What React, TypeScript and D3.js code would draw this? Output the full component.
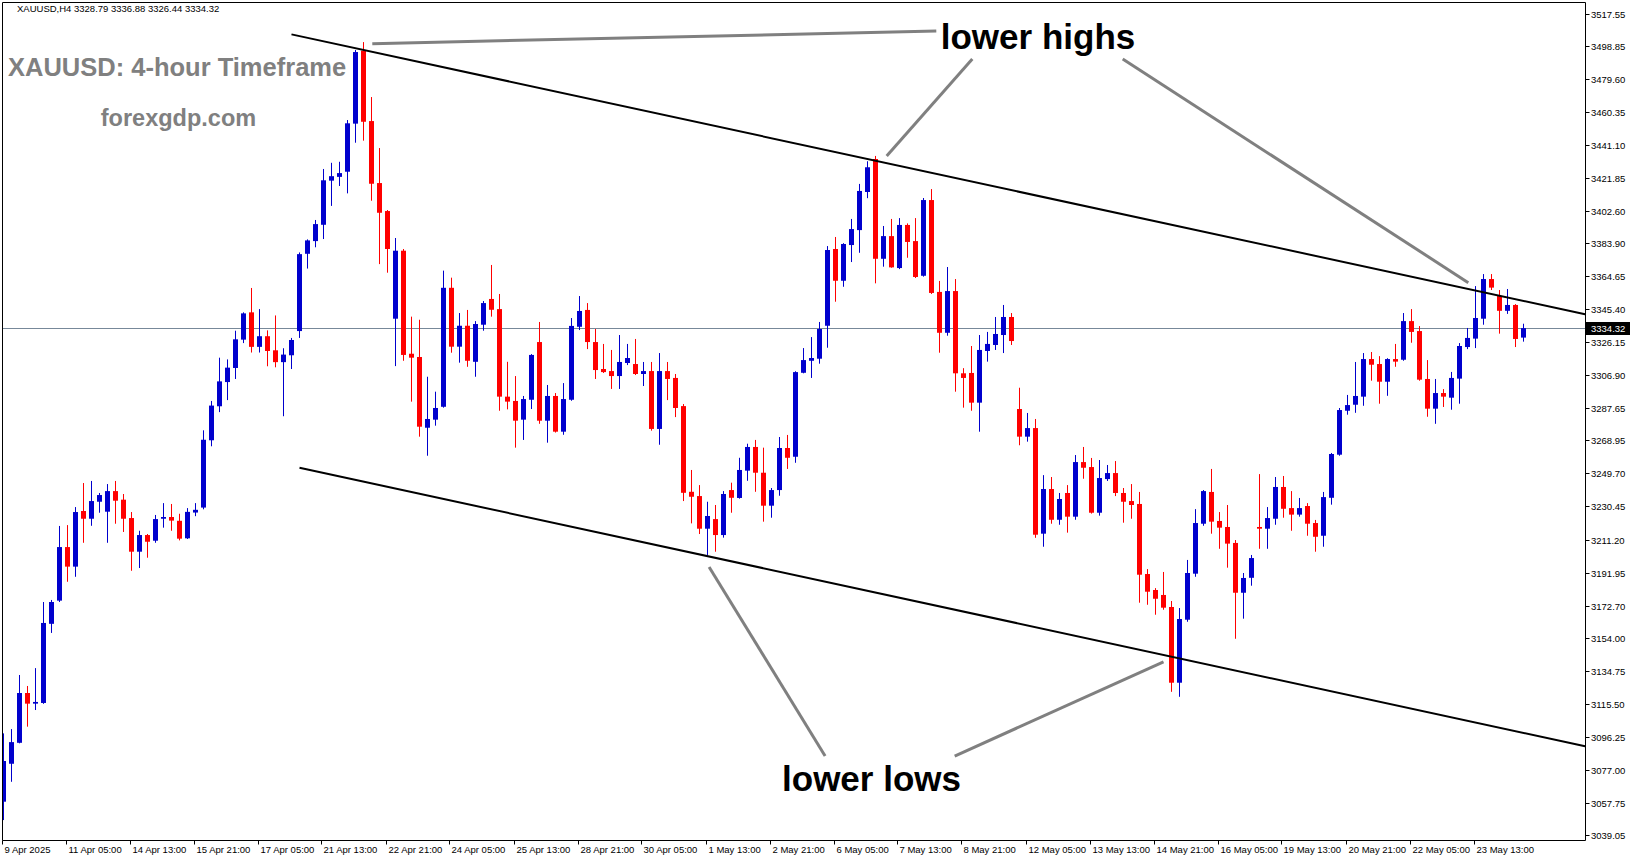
import React from "react";
import * as d3 from "d3";

// ---- DATA (XAUUSD H4) ----
const opens = [
  3058.5, 3080.6, 3092.8, 3121.8, 3115.6, 3116.0, 3162.1, 3175.6, 3206.8, 3195.4,
  3227.8, 3223.3, 3233.2, 3227.4, 3239.4, 3234.4, 3223.7, 3204.1, 3213.8, 3210.5,
  3223.3, 3224.3, 3222.1, 3211.9, 3226.9, 3229.8, 3269.0, 3288.8, 3302.9, 3311.1,
  3327.6, 3343.5, 3323.4, 3329.6, 3321.4, 3314.5, 3318.5, 3332.6, 3377.6, 3385.0,
  3394.5, 3420.2, 3422.4, 3425.4, 3453.4, 3495.9, 3454.9, 3418.8, 3402.5, 3339.8,
  3379.4, 3319.4, 3317.5, 3276.3, 3281.0, 3288.5, 3357.8, 3323.5, 3335.7, 3314.7,
  3336.3, 3351.3, 3345.4, 3294.4, 3291.9, 3281.0, 3292.6, 3326.2, 3280.4, 3294.8,
  3274.0, 3292.6, 3335.1, 3344.9, 3326.2, 3310.5, 3309.3, 3306.4, 3314.0, 3313.4,
  3307.6, 3309.3, 3275.6, 3309.3, 3305.3, 3288.9, 3239.0, 3236.5, 3217.5, 3223.1,
  3213.8, 3240.0, 3235.4, 3251.3, 3265.1, 3250.1, 3230.9, 3240.0, 3264.5, 3259.4,
  3308.3, 3315.3, 3316.5, 3335.7, 3380.4, 3361.9, 3382.7, 3391.4, 3413.6, 3432.8,
  3374.7, 3387.9, 3369.3, 3394.4, 3385.0, 3364.8, 3408.9, 3355.4, 3331.6, 3355.9,
  3308.0, 3308.2, 3290.9, 3321.0, 3324.5, 3330.3, 3340.8, 3287.2, 3271.1, 3276.1,
  3214.6, 3240.6, 3222.7, 3238.3, 3224.5, 3256.3, 3253.4, 3226.8, 3246.4, 3249.9,
  3238.3, 3233.6, 3231.9, 3191.1, 3181.8, 3178.9, 3171.9, 3127.8, 3164.5, 3191.3,
  3220.4, 3238.9, 3222.0, 3218.5, 3209.2, 3180.2, 3188.9, 3218.5, 3217.5, 3223.3,
  3241.8, 3229.5, 3225.7, 3230.7, 3220.8, 3213.4, 3235.5, 3260.6, 3286.2, 3289.7,
  3294.4, 3316.3, 3313.4, 3303.1, 3316.3, 3315.9, 3338.4, 3332.6, 3304.7, 3287.4,
  3296.5, 3293.8, 3304.9, 3323.3, 3328.2, 3339.8, 3362.9, 3353.0, 3344.4, 3347.8,
  3328.79,
];
const highs = [
  3098.3, 3100.8, 3132.3, 3125.9, 3136.3, 3174.8, 3176.0, 3219.1, 3219.6, 3230.1,
  3244.1, 3245.3, 3238.3, 3243.5, 3245.3, 3237.7, 3227.2, 3216.3, 3214.4, 3225.5,
  3232.4, 3231.9, 3226.2, 3229.5, 3232.4, 3274.8, 3291.9, 3317.1, 3316.1, 3332.8,
  3343.5, 3357.7, 3345.4, 3333.0, 3341.7, 3322.6, 3328.6, 3378.4, 3386.0, 3397.3,
  3427.0, 3430.6, 3431.2, 3455.5, 3496.3, 3500.9, 3468.9, 3439.2, 3403.1, 3386.8,
  3380.4, 3341.0, 3339.2, 3306.0, 3297.3, 3367.8, 3363.7, 3343.1, 3344.9, 3338.4,
  3350.1, 3371.1, 3354.2, 3314.7, 3306.4, 3294.8, 3319.2, 3337.9, 3301.2, 3296.5,
  3302.3, 3340.2, 3353.0, 3348.9, 3333.8, 3325.1, 3321.6, 3330.3, 3325.1, 3328.0,
  3314.6, 3314.6, 3319.8, 3314.6, 3307.6, 3290.1, 3251.7, 3242.9, 3233.2, 3231.3,
  3239.4, 3244.3, 3258.8, 3267.0, 3269.2, 3264.7, 3241.2, 3270.9, 3272.1, 3309.2,
  3322.7, 3329.1, 3337.9, 3382.1, 3387.4, 3383.8, 3397.9, 3418.3, 3431.5, 3434.6,
  3393.8, 3397.9, 3398.4, 3395.3, 3398.4, 3410.1, 3415.3, 3361.8, 3369.9, 3362.9,
  3311.0, 3323.9, 3330.3, 3332.1, 3340.8, 3347.8, 3343.1, 3299.6, 3284.9, 3281.4,
  3248.7, 3247.6, 3238.3, 3242.9, 3260.4, 3265.1, 3258.7, 3257.5, 3254.6, 3256.9,
  3241.2, 3243.5, 3238.9, 3194.0, 3182.9, 3192.3, 3175.4, 3171.3, 3199.3, 3228.9,
  3240.0, 3252.3, 3227.2, 3231.3, 3210.9, 3191.7, 3202.2, 3249.3, 3230.1, 3247.6,
  3248.2, 3239.4, 3235.4, 3232.4, 3222.6, 3238.9, 3261.6, 3287.8, 3295.4, 3314.6,
  3319.8, 3320.4, 3318.0, 3316.8, 3325.1, 3343.1, 3345.4, 3335.5, 3315.7, 3304.7,
  3298.8, 3308.8, 3325.6, 3334.4, 3358.8, 3365.8, 3365.8, 3356.5, 3357.1, 3348.3,
  3336.88,
];
const lows = [
  3047.8, 3070.1, 3092.5, 3102.2, 3111.9, 3115.5, 3156.8, 3174.8, 3186.6, 3189.5,
  3209.3, 3219.2, 3226.8, 3209.3, 3220.4, 3215.6, 3193.0, 3194.6, 3200.6, 3209.3,
  3218.1, 3216.3, 3210.7, 3211.5, 3224.8, 3228.8, 3265.5, 3285.4, 3292.4, 3304.7,
  3325.6, 3320.1, 3320.1, 3312.1, 3311.5, 3283.0, 3310.5, 3328.6, 3369.0, 3381.4,
  3386.2, 3405.5, 3417.1, 3412.8, 3442.3, 3443.5, 3408.5, 3371.6, 3366.6, 3312.2,
  3315.3, 3291.5, 3271.1, 3260.0, 3277.5, 3288.0, 3320.0, 3314.2, 3311.8, 3306.0,
  3332.8, 3341.0, 3286.2, 3287.0, 3264.7, 3269.2, 3287.2, 3278.6, 3267.6, 3273.5,
  3272.2, 3292.0, 3333.2, 3322.1, 3304.7, 3308.2, 3298.9, 3298.9, 3312.8, 3307.0,
  3300.6, 3274.6, 3266.4, 3292.4, 3282.5, 3233.6, 3220.6, 3214.4, 3202.2, 3204.1,
  3212.3, 3226.8, 3235.0, 3245.4, 3239.0, 3221.6, 3223.9, 3236.7, 3252.3, 3255.9,
  3308.0, 3305.3, 3313.6, 3322.9, 3349.7, 3358.4, 3372.8, 3378.2, 3410.0, 3360.4,
  3370.1, 3369.5, 3368.7, 3375.3, 3363.5, 3364.3, 3354.2, 3320.0, 3329.9, 3297.3,
  3288.0, 3286.2, 3274.0, 3314.8, 3321.6, 3319.8, 3324.5, 3266.1, 3268.2, 3212.2,
  3207.0, 3220.4, 3219.8, 3215.2, 3222.7, 3246.6, 3226.3, 3225.1, 3245.3, 3236.5,
  3221.0, 3223.3, 3174.4, 3173.2, 3167.4, 3170.3, 3122.5, 3119.6, 3163.3, 3189.5,
  3219.2, 3214.6, 3205.8, 3194.8, 3153.4, 3165.1, 3184.3, 3205.8, 3205.8, 3219.8,
  3223.9, 3216.3, 3224.5, 3213.4, 3204.1, 3207.0, 3231.5, 3260.0, 3283.9, 3285.0,
  3289.1, 3303.7, 3290.3, 3294.9, 3311.8, 3315.3, 3325.8, 3303.7, 3282.7, 3278.6,
  3288.4, 3286.8, 3290.3, 3322.1, 3322.7, 3336.3, 3356.5, 3331.1, 3342.6, 3323.3,
  3326.44,
];
const closes = [
  3082.2, 3093.2, 3121.8, 3115.6, 3116.6, 3162.6, 3174.8, 3206.8, 3195.4, 3227.2,
  3223.3, 3233.6, 3237.1, 3239.4, 3233.8, 3223.3, 3204.1, 3213.8, 3209.9, 3223.1,
  3224.3, 3222.2, 3211.7, 3227.3, 3228.5, 3269.3, 3289.2, 3303.3, 3311.3, 3327.8,
  3342.9, 3323.4, 3329.6, 3321.0, 3314.5, 3318.9, 3327.4, 3377.4, 3385.4, 3394.9,
  3420.4, 3422.8, 3424.6, 3453.6, 3495.1, 3454.5, 3418.4, 3401.5, 3380.4, 3379.4,
  3318.7, 3317.1, 3276.9, 3281.4, 3287.8, 3357.8, 3323.5, 3335.7, 3315.3, 3336.7,
  3348.9, 3345.0, 3294.4, 3291.5, 3280.4, 3293.0, 3318.7, 3280.4, 3294.8, 3274.0,
  3293.0, 3335.6, 3344.3, 3326.2, 3309.9, 3308.7, 3306.4, 3314.6, 3316.9, 3307.6,
  3309.3, 3275.6, 3309.3, 3304.7, 3287.8, 3238.4, 3236.1, 3217.5, 3224.9, 3213.8,
  3237.7, 3235.5, 3251.7, 3265.1, 3250.1, 3230.9, 3240.0, 3264.5, 3258.8, 3308.7,
  3315.7, 3316.9, 3333.8, 3379.8, 3361.9, 3383.3, 3392.0, 3414.2, 3428.0, 3374.7,
  3387.9, 3369.7, 3394.4, 3384.5, 3364.1, 3408.9, 3354.8, 3331.6, 3355.9, 3308.0,
  3305.3, 3290.9, 3321.6, 3325.1, 3330.9, 3340.8, 3326.8, 3271.1, 3276.1, 3214.0,
  3240.6, 3222.7, 3234.8, 3224.5, 3256.3, 3253.0, 3226.8, 3247.0, 3249.9, 3238.3,
  3233.2, 3231.3, 3190.7, 3180.8, 3176.7, 3171.5, 3127.8, 3164.9, 3191.7, 3220.8,
  3239.4, 3221.6, 3218.1, 3208.8, 3180.2, 3188.8, 3200.4, 3217.5, 3223.7, 3241.8,
  3229.1, 3225.7, 3229.5, 3220.4, 3212.8, 3235.9, 3261.0, 3286.6, 3289.5, 3294.8,
  3316.3, 3313.0, 3303.1, 3316.3, 3314.8, 3338.4, 3332.1, 3304.3, 3287.4, 3296.5,
  3294.4, 3305.3, 3323.9, 3328.6, 3340.2, 3362.9, 3357.9, 3344.4, 3347.8, 3328.0,
  3334.32,
];

const priceTicks = [
  3517.55, 3498.85, 3479.6, 3460.35, 3441.1, 3421.85, 3402.6, 3383.9, 3364.65,
  3345.4, 3326.15, 3306.9, 3287.65, 3268.95, 3249.7, 3230.45, 3211.2, 3191.95,
  3172.7, 3154.0, 3134.75, 3115.5, 3096.25, 3077.0, 3057.75, 3039.05,
];
const dateLabels = [
  "9 Apr 2025", "11 Apr 05:00", "14 Apr 13:00", "15 Apr 21:00", "17 Apr 05:00",
  "21 Apr 13:00", "22 Apr 21:00", "24 Apr 05:00", "25 Apr 13:00", "28 Apr 21:00",
  "30 Apr 05:00", "1 May 13:00", "2 May 21:00", "6 May 05:00", "7 May 13:00",
  "8 May 21:00", "12 May 05:00", "13 May 13:00", "14 May 21:00", "16 May 05:00",
  "19 May 13:00", "20 May 21:00", "22 May 05:00", "23 May 13:00",
];
const dateLabelBars = [
  0, 8, 16, 24, 32, 40, 48, 56, 64, 72, 80, 88, 96, 104, 112, 120, 128, 136,
  144, 152, 160, 168, 176, 184,
];
const lastPrice = 3334.32;
const headerText = "XAUUSD,H4  3328.79 3336.88 3326.44 3334.32";

// trend channel lines (bar index, price)
const upperTrend = [[36, 3505.4], [197.7, 3342.4]];
const lowerTrend = [[37, 3253.0], [197.7, 3090.8]];
// grey pointer lines (bar index, price)
const pointers = [
  [[46.1, 3500.0], [116.6, 3507.3]],
  [[121.1, 3491.0], [110.4, 3434.6]],
  [[139.9, 3491.0], [183.1, 3360.8]],
  [[88.2, 3195.2], [102.7, 3085.1]],
  [[118.9, 3085.1], [145.0, 3139.9]],
];

export default function App() {
  const W = 1631;
  const H = 861;
  const left = 2.5;
  const top = 2.5;
  const right = 1585.5;
  const bottom = 840.5;

  const x = d3.scaleLinear().domain([0, 190]).range([3.5, 1523.5]);
  const y = d3.scaleLinear().domain([3039.05, 3517.55]).range([835.1, 13.5]);

  const line = d3
    .line<number[]>()
    .x((d) => x(d[0]))
    .y((d) => y(d[1]));

  const font = "'Liberation Sans', Arial, sans-serif";
  const axisFont = 9.5;
  const yLast = Math.round(y(lastPrice)) + 0.5;

  return (
    <div style={{ position: "fixed", left: 0, top: 0, width: W, height: H, background: "#fff" }}>
      <svg width={W} height={H} style={{ display: "block" }}>
        <defs>
          <clipPath id="plot">
            <rect x={3} y={3} width={right - 3} height={bottom - 3} />
          </clipPath>
        </defs>
        <rect x={0} y={0} width={W} height={H} fill="#fff" />

        {/* header */}
        <text x={17} y={12} fontFamily={font} fontSize={axisFont} fill="#000">
          {headerText}
        </text>

        <g clipPath="url(#plot)">
          {/* bid line */}
          <line x1={left} x2={right} y1={yLast} y2={yLast} stroke="#778899" strokeWidth={1} />

          {/* candles */}
          {opens.map((o, i) => {
            const c = closes[i];
            const bull = c >= o;
            const col = bull ? "#0000CD" : "#FF0000";
            const cx = x(i);
            const yt = y(Math.max(o, c));
            const yb = y(Math.min(o, c));
            return (
              <g key={i}>
                <rect
                  x={cx - 0.5}
                  y={y(highs[i])}
                  width={1}
                  height={Math.max(1, y(lows[i]) - y(highs[i]))}
                  fill={col}
                />
                <rect x={cx - 2.5} y={yt} width={5} height={Math.max(1.5, yb - yt)} fill={col} />
              </g>
            );
          })}

          {/* channel */}
          <path d={line(upperTrend as any) || ""} stroke="#000" strokeWidth={2} fill="none" />
          <path d={line(lowerTrend as any) || ""} stroke="#000" strokeWidth={2} fill="none" />

          {/* pointers */}
          {pointers.map((p, k) => (
            <path key={k} d={line(p as any) || ""} stroke="#808080" strokeWidth={3} fill="none" />
          ))}
        </g>

        {/* frame */}
        <line x1={left} x2={left} y1={top} y2={bottom} stroke="#000" />
        <line x1={left} x2={right} y1={top} y2={top} stroke="#000" />
        <line x1={right} x2={right} y1={top} y2={bottom} stroke="#000" />
        <line x1={left} x2={right} y1={bottom} y2={bottom} stroke="#000" />

        {/* price axis */}
        {priceTicks.map((v) => {
          const yy = Math.round(y(v)) + 0.5;
          return (
            <g key={v}>
              <line x1={right} x2={right + 4} y1={yy} y2={yy} stroke="#000" />
              <text x={right + 5.5} y={yy + 3.5} fontFamily={font} fontSize={axisFont} fill="#000">
                {v.toFixed(2)}
              </text>
            </g>
          );
        })}
        <rect x={right + 0.5} y={yLast - 6.5} width={44} height={13} fill="#000" />
        <text x={right + 5.5} y={yLast + 3.5} fontFamily={font} fontSize={axisFont} fill="#fff">
          {lastPrice.toFixed(2)}
        </text>

        {/* time axis */}
        {dateLabelBars.map((b, k) => {
          const xx = Math.round(x(b)) - 1.5;
          return (
            <g key={k}>
              <line x1={xx} x2={xx} y1={bottom} y2={bottom + 4} stroke="#000" />
              <text x={xx + 2} y={bottom + 12} fontFamily={font} fontSize={axisFont} fill="#000">
                {dateLabels[k]}
              </text>
            </g>
          );
        })}

        {/* annotations */}
        <text x={8} y={76} fontFamily={font} fontSize={25.5} fontWeight="bold" fill="#808080">
          XAUUSD: 4-hour Timeframe
        </text>
        <text x={178.5} y={126} textAnchor="middle" fontFamily={font} fontSize={23.5} fontWeight="bold" fill="#808080">
          forexgdp.com
        </text>
        <text x={1038} y={49} textAnchor="middle" fontFamily={font} fontSize={35} fontWeight="bold" fill="#000">
          lower highs
        </text>
        <text x={871.5} y={790.5} textAnchor="middle" fontFamily={font} fontSize={35} fontWeight="bold" fill="#000">
          lower lows
        </text>
      </svg>
    </div>
  );
}
